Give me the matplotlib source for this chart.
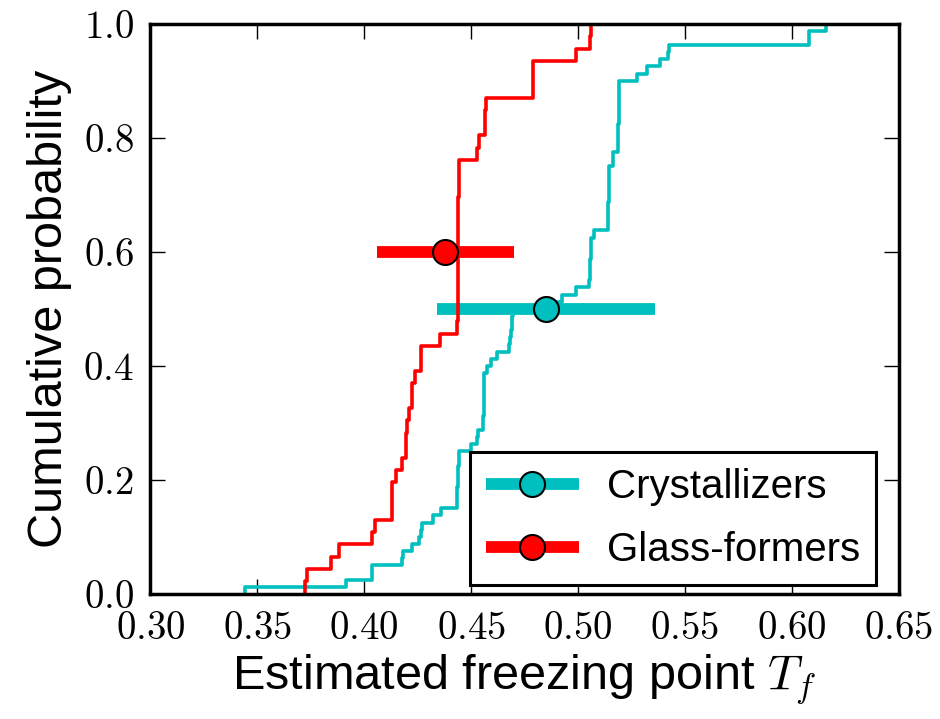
import numpy as np
import matplotlib
matplotlib.use('Agg')
import matplotlib.pyplot as plt
from matplotlib.lines import Line2D
from matplotlib.ticker import FormatStrFormatter

# estimated freezing points (sorted)
crystallizers = [
    0.3441, 0.3915, 0.4036, 0.4037, 0.4179, 0.4180, 0.4223, 0.4257,
    0.4268, 0.4270, 0.4322, 0.4358,
    0.4433, 0.4434, 0.4436, 0.4437, 0.4439, 0.4440, 0.4442, 0.4444,
    0.4500, 0.4530, 0.4534,
    0.4558, 0.4558, 0.4559, 0.4559, 0.4560, 0.4560, 0.4561, 0.4561,
    0.4576, 0.4591, 0.4622, 0.4677, 0.4684, 0.4685, 0.4691, 0.4692, 0.4696,
    0.4900, 0.4923, 0.4991, 0.5050,
    0.5057, 0.5058, 0.5058, 0.5059, 0.5059, 0.5060, 0.5073,
    0.5141, 0.5141, 0.5142, 0.5142, 0.5143, 0.5143, 0.5144, 0.5144, 0.5145,
    0.5162, 0.5165,
    0.5188, 0.5188, 0.5189, 0.5189, 0.5190, 0.5190, 0.5191, 0.5191, 0.5192, 0.5192,
    0.5275, 0.5322, 0.5384, 0.5423, 0.5424, 0.6079, 0.6080, 0.6161,
]
glass_formers = [
    0.3725, 0.3733, 0.3845, 0.3884, 0.4035, 0.4050,
    0.4128, 0.4130, 0.4132, 0.4148, 0.4178,
    0.4195, 0.4197, 0.4199, 0.4210, 0.4222, 0.4224, 0.4240, 0.4265, 0.4266,
    0.4355,
    0.4436, 0.4437, 0.4437, 0.4438, 0.4438, 0.4439, 0.4439, 0.4440,
    0.4440, 0.4441, 0.4441, 0.4442, 0.4443, 0.4444,
    0.4526, 0.4537, 0.4565, 0.4567, 0.4571,
    0.4790, 0.4791, 0.4792, 0.4993, 0.5058, 0.5059,
]

# summary points with horizontal error bars
cry_center, cry_level, cry_err = 0.485, 0.5, 0.051
gla_center, gla_level, gla_err = 0.438, 0.6, 0.032

labels = ['Crystallizers', 'Glass-formers']
colors = ['#00bfbf', 'red']

plt.rcParams['mathtext.fontset'] = 'cm'
plt.rcParams['font.family'] = ['Liberation Sans', 'DejaVu Sans']


def ecdf_xy(values):
    x = np.sort(np.asarray(values))
    y = np.arange(1, len(x) + 1) / len(x)
    return np.concatenate([[x[0]], x]), np.concatenate([[0.0], y])


fig = plt.figure(figsize=(9.4, 7.19), dpi=100)
ax = fig.add_axes([0.160, 0.174, 0.796, 0.793])

x, y = ecdf_xy(crystallizers)
ax.step(x, y, where='post', color=colors[0], lw=2.6)
ax.errorbar([cry_center], [cry_level], xerr=[cry_err], fmt='o', color=colors[0],
            elinewidth=8.5, capsize=0, markersize=18, markerfacecolor=colors[0],
            markeredgecolor='k', markeredgewidth=1.5)

x, y = ecdf_xy(glass_formers)
ax.step(x, y, where='post', color=colors[1], lw=2.6)
ax.errorbar([gla_center], [gla_level], xerr=[gla_err], fmt='o', color=colors[1],
            elinewidth=8.5, capsize=0, markersize=18, markerfacecolor=colors[1],
            markeredgecolor='k', markeredgewidth=1.5)

ax.set_xlim(0.30, 0.65)
ax.set_ylim(0.0, 1.0)
ax.set_xticks(np.arange(0.30, 0.651, 0.05))
ax.set_yticks(np.arange(0.0, 1.01, 0.2))
ax.xaxis.set_major_formatter(FormatStrFormatter('$%.2f$'))
ax.yaxis.set_major_formatter(FormatStrFormatter('$%.1f$'))
ax.tick_params(direction='in', length=11, width=1, top=True, right=True,
               labelsize=28)
ax.tick_params(axis='x', pad=12)
ax.tick_params(axis='y', pad=12)
for s in ax.spines.values():
    s.set_linewidth(2.5)

ax.set_xlabel('Estimated freezing point $T_f$', fontsize=35, labelpad=4)
ax.set_ylabel('Cumulative probability', fontsize=35, labelpad=8)

handles = [Line2D([], [], color=c, lw=8.5, marker='o', markersize=18,
                  markerfacecolor=c, markeredgecolor='k', markeredgewidth=1.5,
                  solid_capstyle='butt')
           for c in colors]
leg = ax.legend(handles, labels, loc='lower right', bbox_to_anchor=(0.97, 0.016),
                borderaxespad=0, fontsize=29, numpoints=1, handlelength=2.3,
                handletextpad=0.7, labelspacing=0.6, borderpad=0.4,
                fancybox=False, framealpha=1)
leg.get_frame().set_edgecolor('k')
leg.get_frame().set_linewidth(2.2)

fig.savefig('out.png', dpi=100)
